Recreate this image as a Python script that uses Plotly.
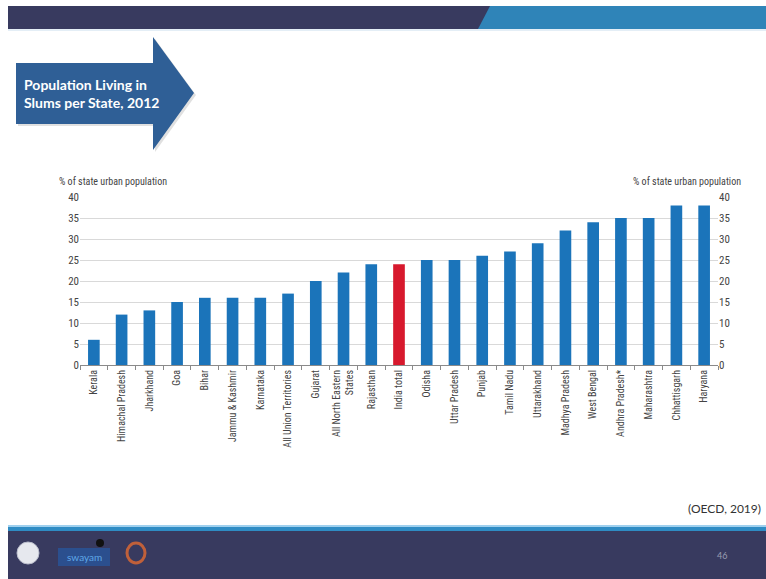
import plotly.graph_objects as go

W, H = 766, 579

# Data: share of state urban population living in slums, 2012
states = [
    "Kerala", "Himachal Pradesh", "Jharkhand", "Goa", "Bihar",
    "Jammu & Kashmir", "Karnataka", "All Union Territories", "Gujarat",
    "All North Eastern<br>States", "Rajasthan", "India total", "Odisha",
    "Uttar Pradesh", "Punjab", "Tamil Nadu", "Uttarakhand", "Madhya Pradesh",
    "West Bengal", "Andhra Pradesh*", "Maharashtra", "Chhattisgarh", "Haryana",
]
slum_share = [6, 12, 13, 15, 16, 16, 16, 17, 20, 22, 24, 24, 25, 25, 26, 27,
              29, 32, 34, 35, 35, 38, 38]
y_ticks = [0, 5, 10, 15, 20, 25, 30, 35, 40]
highlight = "India total"

BLUE = "#1b74ba"
RED = "#d7192d"
NAVY = "#383a5f"
SKY = "#2f84b8"
ARROW = "#2f5f96"
NARROW = "Liberation Sans Narrow, Arial Narrow, Roboto Condensed, DejaVu Sans Condensed, sans-serif"
TEXT = "#444444"


def px(x):
    return x / W


def py(y):
    return 1 - y / H


bar_colors = [RED if s == highlight else BLUE for s in states]

fig = go.Figure()
fig.add_trace(go.Bar(
    x=states, y=slum_share, marker=dict(color=bar_colors, line=dict(width=0)),
    width=0.42, hoverinfo="x+y", showlegend=False,
))
# companion trace so the right-hand axis is drawn
fig.add_trace(go.Scatter(
    x=states, y=slum_share, yaxis="y2", mode="lines",
    line=dict(width=0), hoverinfo="skip", showlegend=False,
))

axis_font = dict(family=NARROW, size=11, color=TEXT)

fig.update_layout(
    width=W, height=H,
    margin=dict(l=0, r=0, t=0, b=0),
    paper_bgcolor="white", plot_bgcolor="white",
    bargap=0.58,
    xaxis=dict(
        domain=[px(80), px(718)], type="category",
        tickangle=-90, tickfont=dict(family=NARROW, size=10, color=TEXT),
        showline=True, linecolor="#8a8a8a", linewidth=1,
        ticks="outside", tickson="boundaries", ticklen=4, tickcolor="#8a8a8a",
        showgrid=False, automargin=False, fixedrange=True,
    ),
    yaxis=dict(
        domain=[py(365), py(197)], range=[0, 40],
        tickvals=y_ticks, tickfont=axis_font,
        showgrid=True, gridcolor="#d9d9d9", gridwidth=1,
        zeroline=False, showline=False, ticks="", automargin=False,
        fixedrange=True,
    ),
    yaxis2=dict(
        overlaying="y", side="right", range=[0, 40],
        tickvals=y_ticks, tickfont=axis_font,
        showgrid=False, zeroline=False, showline=False, ticks="",
        automargin=False, fixedrange=True,
    ),
)

shapes = []
# top banner
shapes.append(dict(type="rect", xref="paper", yref="paper",
                   x0=px(8), x1=px(766), y0=py(29), y1=py(6),
                   fillcolor=NAVY, line=dict(width=0), layer="below"))
shapes.append(dict(type="path", xref="paper", yref="paper",
                   path=f"M {px(490)} {py(6)} L {px(766)} {py(6)} L {px(766)} {py(29)} L {px(478)} {py(29)} Z",
                   fillcolor=SKY, line=dict(width=0), layer="below"))
shapes.append(dict(type="rect", xref="paper", yref="paper",
                   x0=px(8), x1=px(766), y0=py(31), y1=py(29),
                   fillcolor="#e4eef6", line=dict(width=0), layer="below"))

# title arrow
arrow_path = (
    f"M {px(16)} {py(63)} L {px(153)} {py(63)} L {px(153)} {py(37)} "
    f"L {px(194)} {py(93)} L {px(153)} {py(150)} L {px(153)} {py(124)} "
    f"L {px(16)} {py(124)} Z"
)
shadow_path = (
    f"M {px(18)} {py(65)} L {px(155)} {py(65)} L {px(155)} {py(39)} "
    f"L {px(196)} {py(95)} L {px(155)} {py(152)} L {px(155)} {py(126)} "
    f"L {px(18)} {py(126)} Z"
)
shapes.append(dict(type="path", xref="paper", yref="paper", path=shadow_path,
                   fillcolor="rgba(0,0,0,0.12)", line=dict(width=0), layer="below"))
shapes.append(dict(type="path", xref="paper", yref="paper", path=arrow_path,
                   fillcolor=ARROW, line=dict(width=0), layer="below"))

# bottom banner
shapes.append(dict(type="rect", xref="paper", yref="paper",
                   x0=px(8), x1=px(766), y0=py(579), y1=py(527),
                   fillcolor=NAVY, line=dict(width=0), layer="below"))
shapes.append(dict(type="rect", xref="paper", yref="paper",
                   x0=px(8), x1=px(766), y0=py(531), y1=py(526),
                   fillcolor="#2f8cc4", line=dict(width=0), layer="below"))
shapes.append(dict(type="rect", xref="paper", yref="paper",
                   x0=px(8), x1=px(766), y0=py(527), y1=py(525),
                   fillcolor="#9fd0ee", line=dict(width=0), layer="below"))

# footer logos
shapes.append(dict(type="circle", xref="paper", yref="paper",
                   x0=px(17), x1=px(39), y0=py(564), y1=py(542),
                   fillcolor="#e6e8ee", line=dict(color="#b9bccb", width=1)))
shapes.append(dict(type="rect", xref="paper", yref="paper",
                   x0=px(58), x1=px(110), y0=py(566), y1=py(548),
                   fillcolor="#2b4f8e", line=dict(width=0)))
shapes.append(dict(type="circle", xref="paper", yref="paper",
                   x0=px(96), x1=px(104), y0=py(547), y1=py(539),
                   fillcolor="#111111", line=dict(width=0)))
shapes.append(dict(type="circle", xref="paper", yref="paper",
                   x0=px(127), x1=px(145), y0=py(563), y1=py(543),
                   fillcolor="rgba(0,0,0,0)", line=dict(color="#c0603a", width=3)))

fig.update_layout(shapes=shapes)

annotations = [
    dict(text="Population Living in<br>Slums per State, 2012",
         x=px(22), y=py(94), xref="paper", yref="paper",
         xanchor="left", yanchor="middle", align="left", showarrow=False,
         font=dict(family="Lato, Open Sans, sans-serif", size=14, color="white",
                   weight="bold")),
    dict(text="% of state urban population", x=px(57), y=py(182),
         xref="paper", yref="paper", xanchor="left", yanchor="middle",
         showarrow=False, font=dict(family=NARROW, size=10, color=TEXT)),
    dict(text="% of state urban population", x=px(743), y=py(182),
         xref="paper", yref="paper", xanchor="right", yanchor="middle",
         showarrow=False, font=dict(family=NARROW, size=10, color=TEXT)),
    dict(text="(OECD, 2019)", x=px(763), y=py(508),
         xref="paper", yref="paper", xanchor="right", yanchor="middle",
         showarrow=False, font=dict(family="Lato, Open Sans, sans-serif", size=12, color="#333333")),
    dict(text="46", x=px(722), y=py(555),
         xref="paper", yref="paper", xanchor="center", yanchor="middle",
         showarrow=False, font=dict(family="Lato, sans-serif", size=9, color="#9a9cb0")),
    dict(text="swayam", x=px(84), y=py(557),
         xref="paper", yref="paper", xanchor="center", yanchor="middle",
         showarrow=False, font=dict(family="Lato, sans-serif", size=10, color="#5fa8e8")),
]
fig.update_layout(annotations=annotations)

fig.write_html("out.html")
